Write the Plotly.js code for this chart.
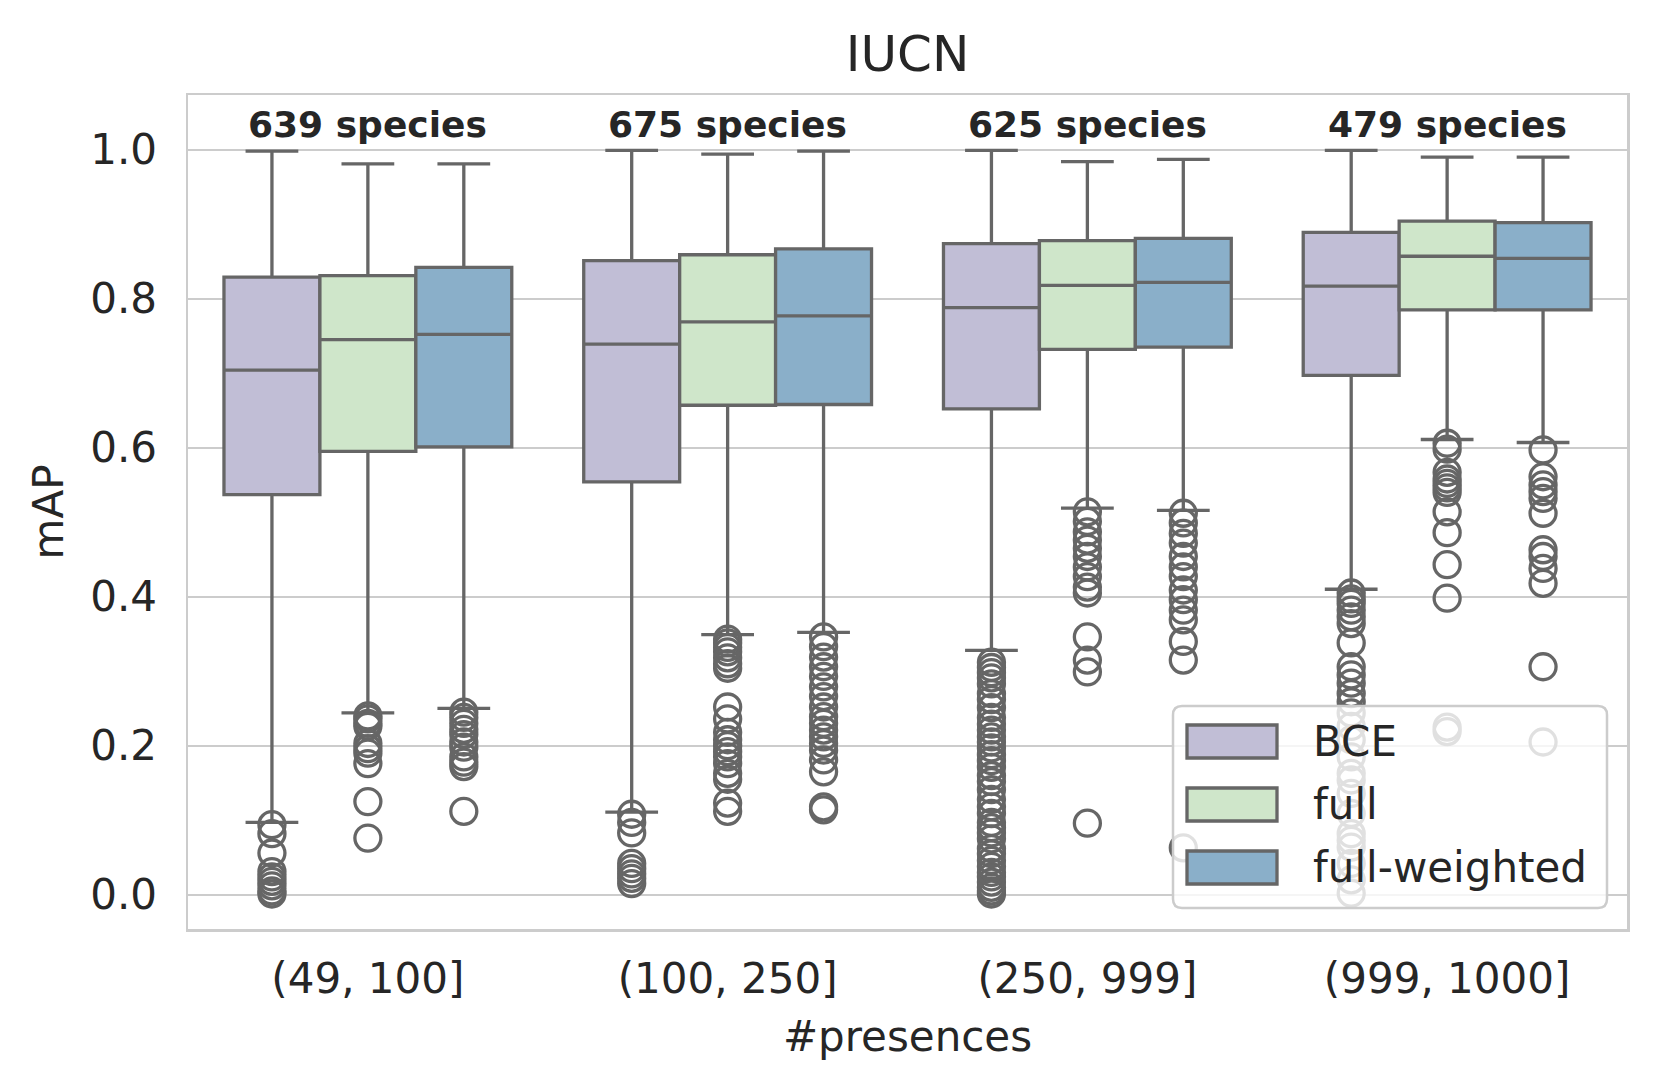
<!DOCTYPE html>
<html>
<head>
<meta charset="utf-8">
<script src="https://cdn.plot.ly/plotly-3.0.1.min.js"></script>
<style>html,body{margin:0;padding:0;background:#fff;}#chart{width:1660px;height:1092px;}</style>
</head>
<body>
<div id="chart"></div>
<script>
// ---------------- data ----------------
const categories = ["(49, 100]", "(100, 250]", "(250, 999]", "(999, 1000]"];
const speciesCounts = ["639 species", "675 species", "625 species", "479 species"];
const seriesNames = ["BCE", "full", "full-weighted"];

// BCE
const bceLower = [0.097, 0.111, 0.328, 0.410];
const bceQ1    = [0.537, 0.554, 0.652, 0.697];
const bceMed   = [0.704, 0.739, 0.788, 0.817];
const bceQ3    = [0.829, 0.851, 0.874, 0.889];
const bceUpper = [0.998, 0.999, 0.999, 0.999];
const bceOut = [
  [0.094, 0.082, 0.056, 0.031, 0.024, 0.018, 0.012, 0.005, 0.001],
  [0.108, 0.097, 0.083, 0.042, 0.035, 0.028, 0.022, 0.015],
  [0.312, 0.305, 0.298, 0.291, 0.283, 0.270, 0.262, 0.251, 0.238, 0.229, 0.221, 0.212, 0.205,
   0.197, 0.188, 0.180, 0.171, 0.160, 0.152, 0.141, 0.128, 0.118, 0.109, 0.097, 0.090, 0.083,
   0.075, 0.062, 0.055, 0.046, 0.038, 0.030, 0.024, 0.017, 0.010, 0.005, 0.001],
  [0.405, 0.397, 0.391, 0.382, 0.373, 0.364, 0.338, 0.306, 0.295, 0.284, 0.270, 0.259, 0.244,
   0.226, 0.208, 0.185, 0.163, 0.154, 0.136, 0.109, 0.082, 0.073, 0.064, 0.042, 0.020, 0.002]
];

// full
const fullLower = [0.244, 0.349, 0.519, 0.611];
const fullQ1    = [0.595, 0.657, 0.732, 0.785];
const fullMed   = [0.745, 0.769, 0.818, 0.857];
const fullQ3    = [0.831, 0.859, 0.878, 0.904];
const fullUpper = [0.981, 0.994, 0.984, 0.990];
const fullOut = [
  [0.240, 0.236, 0.230, 0.226, 0.203, 0.196, 0.190, 0.176, 0.125, 0.076],
  [0.343, 0.338, 0.332, 0.326, 0.318, 0.310, 0.304, 0.252, 0.236, 0.218, 0.208, 0.200, 0.192,
   0.185, 0.176, 0.163, 0.155, 0.123, 0.112],
  [0.514, 0.501, 0.487, 0.476, 0.465, 0.454, 0.440, 0.427, 0.413, 0.405, 0.346, 0.315, 0.299, 0.096],
  [0.606, 0.598, 0.567, 0.558, 0.552, 0.546, 0.540, 0.514, 0.486, 0.443, 0.398, 0.225, 0.219]
];

// full-weighted
const fwLower = [0.250, 0.352, 0.516, 0.607];
const fwQ1    = [0.601, 0.658, 0.735, 0.785];
const fwMed   = [0.752, 0.777, 0.822, 0.854];
const fwQ3    = [0.842, 0.867, 0.881, 0.902];
const fwUpper = [0.981, 0.998, 0.987, 0.990];
const fwOut = [
  [0.245, 0.238, 0.230, 0.222, 0.215, 0.205, 0.198, 0.185, 0.178, 0.172, 0.112],
  [0.346, 0.333, 0.319, 0.306, 0.293, 0.279, 0.266, 0.252, 0.239, 0.230, 0.221, 0.212, 0.203,
   0.194, 0.181, 0.165, 0.118, 0.114],
  [0.512, 0.499, 0.485, 0.472, 0.454, 0.440, 0.427, 0.409, 0.396, 0.382, 0.369, 0.340, 0.315, 0.063],
  [0.597, 0.561, 0.550, 0.541, 0.532, 0.512, 0.463, 0.454, 0.438, 0.418, 0.306, 0.205]
];

// ---------------- styles ----------------
const fillColors = ["#c1bed6", "#cfe6ca", "#8aafc9"];
const edge = "#666666";
const textColor = "#262626";
const font = "DejaVu Sans";

const stats = [
  [bceLower, bceQ1, bceMed, bceQ3, bceUpper, bceOut],
  [fullLower, fullQ1, fullMed, fullQ3, fullUpper, fullOut],
  [fwLower, fwQ1, fwMed, fwQ3, fwUpper, fwOut]
];

const traces = stats.map((s, i) => ({
  type: "box",
  name: seriesNames[i],
  x: categories,
  lowerfence: s[0], q1: s[1], median: s[2], q3: s[3], upperfence: s[4],
  y: s[5],
  boxpoints: "outliers",
  jitter: 0, pointpos: 0,
  offsetgroup: String(i),
  fillcolor: fillColors[i],
  line: {color: edge, width: 3.3},
  whiskerwidth: 0.55,
  marker: {symbol: "circle-open", size: 26, color: edge, line: {width: 3.3, color: edge}},
  showlegend: false,
  hoverinfo: "skip"
}));

// pixel -> paper helpers for the legend frame
const PL = 188, PR = 1627, PT = 95, PB = 929;
const px = v => (v - PL) / (PR - PL);
const py = v => (PB - v) / (PB - PT);

const shapes = [];
const annotations = [];

// species counts
categories.forEach((c, i) => {
  annotations.push({
    x: c, y: 1.034, xref: "x", yref: "y", text: "<b>" + speciesCounts[i] + "</b>",
    showarrow: false, xanchor: "center", yanchor: "middle",
    font: {family: font, size: 36, color: textColor}
  });
});

// legend frame (rounded)
(function () {
  const x0 = 1173, x1 = 1607, y0 = 706, y1 = 908, r = 9;
  const P = (x, y) => px(x) + "," + py(y);
  const path = "M" + P(x0 + r, y0) + " L" + P(x1 - r, y0) + " Q" + P(x1, y0) + " " + P(x1, y0 + r) +
    " L" + P(x1, y1 - r) + " Q" + P(x1, y1) + " " + P(x1 - r, y1) +
    " L" + P(x0 + r, y1) + " Q" + P(x0, y1) + " " + P(x0, y1 - r) +
    " L" + P(x0, y0 + r) + " Q" + P(x0, y0) + " " + P(x0 + r, y0) + " Z";
  shapes.push({type: "path", xref: "paper", yref: "paper", path: path,
    fillcolor: "rgba(255,255,255,0.8)", line: {color: "#cccccc", width: 2.5}, layer: "above"});
})();

seriesNames.forEach((n, i) => {
  const yc = 741.5 + i * 63;
  shapes.push({type: "rect", xref: "paper", yref: "paper",
    x0: px(1187), x1: px(1277), y0: py(yc - 16.5), y1: py(yc + 16.5),
    fillcolor: fillColors[i], line: {color: edge, width: 3.3}, layer: "above"});
  annotations.push({xref: "paper", yref: "paper", x: px(1311), y: py(yc), text: n,
    showarrow: false, xanchor: "left", yanchor: "middle",
    font: {family: font, size: 42, color: textColor}});
});

const layout = {
  width: 1660, height: 1092,
  margin: {l: PL, r: 1660 - PR, t: PT, b: 1092 - PB},
  paper_bgcolor: "#ffffff", plot_bgcolor: "#ffffff",
  font: {family: font, size: 42, color: textColor},
  title: {text: "IUCN", x: 0.5, xref: "paper", xanchor: "center",
          y: 1 - 53 / 1092, yref: "container", yanchor: "middle",
          font: {family: font, size: 50, color: textColor}},
  boxmode: "group", boxgap: 0.2, boxgroupgap: 0,
  showlegend: false,
  xaxis: {
    type: "category", range: [-0.5, 3.5],
    showgrid: false, zeroline: false,
    showline: true, mirror: true, linecolor: "#cccccc", linewidth: 2.5,
    ticks: "", ticklabelstandoff: 11,
    tickfont: {family: font, size: 42, color: textColor},
    title: {text: "#presences", standoff: 20, font: {family: font, size: 42, color: textColor}}
  },
  yaxis: {
    range: [-0.046, 1.0734],
    tickvals: [0, 0.2, 0.4, 0.6, 0.8, 1.0],
    ticktext: ["0.0", "0.2", "0.4", "0.6", "0.8", "1.0"],
    showgrid: true, gridcolor: "#cccccc", gridwidth: 2.3,
    zeroline: false,
    showline: true, mirror: true, linecolor: "#cccccc", linewidth: 2.5,
    ticks: "", ticklabelstandoff: 20,
    tickfont: {family: font, size: 42, color: textColor},
    title: {text: "mAP", standoff: 14, font: {family: font, size: 42, color: textColor}}
  },
  shapes: shapes,
  annotations: annotations
};

Plotly.newPlot("chart", traces, layout, {staticPlot: true, displayModeBar: false});
</script>
</body>
</html>
